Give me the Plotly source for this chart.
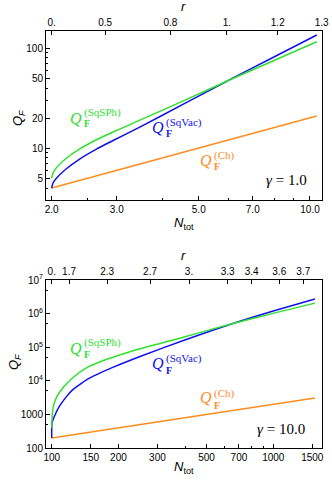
import plotly.graph_objects as go

# ---------------- data: top panel (gamma = 1.0) ----------------
top_N_ch = [2.0, 10.43]
top_Q_ch = [4.0, 21.0]

top_N_vac = [2.0, 2.015, 2.054, 2.187, 2.375, 2.636, 2.924, 3.452, 4.542, 5.972, 7.796, 10.43]
top_Q_vac = [4.0, 4.47, 4.96, 6.21, 7.77, 9.77, 11.9, 16.2, 27.6, 47.1, 78.2, 135.8]

top_N_sph = [2.0, 2.015, 2.054, 2.187, 2.375, 2.636, 3.0, 3.452, 4.542, 5.972, 7.796, 10.43]
top_Q_sph = [5.0, 5.6, 6.3, 7.9, 9.8, 12.1, 15.1, 19.0, 29.8, 47.1, 72.6, 116.4]

top_N_ticks = [2, 3, 5, 7, 10]
top_N_ticktext = ["2.0", "3.0", "5.0", "7.0", "10.0"]
top_Q_ticks = [5, 10, 20, 50, 100]
top_Q_ticktext = ["5", "10", "20", "50", "100"]
top_r_pos = [2.0, 2.79, 4.19, 5.96, 8.18, 10.75]
top_r_text = ["0.", "0.5", "0.8", "1.", "1.2", "1.3"]

# ---------------- data: bottom panel (gamma = 10.0) ----------------
bot_N_ch = [100, 1542]
bot_Q_ch = [200, 3100]

bot_N_vac = [100, 100.3, 102.7, 108.2, 116, 124.1, 133.2, 145.1, 158.5, 188.5, 250.3, 392.6, 657.6, 1018, 1542]
bot_Q_vac = [200, 553, 868, 1722, 3273, 5360, 7600, 11150, 15070, 25100, 53000, 1.585e5, 5.1e5, 1.24e6, 2.73e6]

bot_N_sph = [100, 101.0, 104.6, 112.1, 124.4, 142.8, 175.8, 225.6, 392.6, 657.6, 1018, 1542]
bot_Q_sph = [400, 1374, 3055, 6070, 12300, 23800, 42900, 73600, 1.99e5, 5.1e5, 1.05e6, 2.05e6]

bot_N_ticks = [100, 150, 200, 300, 500, 700, 1000, 1500]
bot_N_ticktext = ["100", "150", "200", "300", "500", "700", "1000", "1500"]
bot_Q_ticks = [100, 1000, 1e4, 1e5, 1e6, 1e7]
bot_Q_ticktext = ["100", "1000", "10<sup>4</sup>", "10<sup>5</sup>", "10<sup>6</sup>", "10<sup>7</sup>"]
bot_r_pos = [100, 119.7, 178, 277.8, 416.5, 622.6, 799, 1064, 1366]
bot_r_text = ["0.", "1.7", "2.3", "2.7", "3.", "3.3", "3.4", "3.6", "3.7"]

GREEN = "#2fe02f"
BLUE = "#1010f0"
ORANGE = "#ff8c1f"
LW = 1.5

fig = go.Figure()

def add_curves(xa, ya, nch, qch, nvac, qvac, nsph, qsph):
    fig.add_trace(go.Scatter(x=nch, y=qch, mode="lines", line=dict(color=ORANGE, width=LW),
                             xaxis=xa, yaxis=ya, showlegend=False, name="Ch"))
    fig.add_trace(go.Scatter(x=nvac, y=qvac, mode="lines", line=dict(color=BLUE, width=LW, shape="spline", smoothing=0.7),
                             xaxis=xa, yaxis=ya, showlegend=False, name="SqVac"))
    fig.add_trace(go.Scatter(x=nsph, y=qsph, mode="lines", line=dict(color=GREEN, width=LW, shape="spline", smoothing=0.7),
                             xaxis=xa, yaxis=ya, showlegend=False, name="SqSPh"))

add_curves("x", "y", top_N_ch, top_Q_ch, top_N_vac, top_Q_vac, top_N_sph, top_Q_sph)
add_curves("x2", "y2", bot_N_ch, bot_Q_ch, bot_N_vac, bot_Q_vac, bot_N_sph, bot_Q_sph)

TICKFONT = dict(family="Liberation Sans, Arial, sans-serif", size=10, color="black")
common = dict(type="log", showgrid=False, zeroline=False, showline=True, linecolor="black",
              linewidth=1, ticks="inside", ticklen=4, tickcolor="black", tickfont=TICKFONT,
              tickmode="array", automargin=False)

def minor(vals):
    return dict(tickmode="array", tickvals=vals, ticks="inside", ticklen=2, tickcolor="black", showgrid=False)

# geometry (pixel -> paper helpers)
L, R, T, B = 46, 322, 31, 448
W, H = R - L, B - T
def px(x):
    return (x - L) / W
def py(y):
    return (B - y) / H

top_dom = [py(199.5), 1.0]
bot_dom = [0.0, py(280)]

top_xr = [0.2856, 1.0325]
bot_xr = [1.974, 3.22]

fig.update_layout(
    width=332, height=483,
    margin=dict(l=L, r=332 - R, t=T, b=483 - B),
    paper_bgcolor="white", plot_bgcolor="white",
    template="none",
    xaxis=dict(common, domain=[0, 1], anchor="y", range=top_xr,
               tickvals=top_N_ticks, ticktext=top_N_ticktext,
               minor=minor([2.5, 4, 6, 8, 9])),
    xaxis3=dict(common, overlaying="x", side="top", anchor="y", range=top_xr,
                tickvals=top_r_pos, ticktext=top_r_text),
    yaxis=dict(common, domain=top_dom, anchor="x", range=[0.488, 2.173], mirror=True,
               tickvals=top_Q_ticks, ticktext=top_Q_ticktext,
               minor=minor([4, 6, 7, 8, 9, 30, 40, 60, 70, 80, 90])),
    xaxis2=dict(common, domain=[0, 1], anchor="y2", range=bot_xr,
                tickvals=bot_N_ticks, ticktext=bot_N_ticktext,
                minor=minor([400, 600, 800, 900])),
    xaxis4=dict(common, overlaying="x2", side="top", anchor="y2", range=bot_xr,
                tickvals=bot_r_pos, ticktext=bot_r_text),
    yaxis2=dict(common, domain=bot_dom, anchor="x2", range=[2, 7], mirror=True,
                tickvals=bot_Q_ticks, ticktext=bot_Q_ticktext,
                minor=minor([500, 5000, 5e4, 5e5, 5e6])),
)

# invisible traces so the top r-axes are drawn
fig.add_trace(go.Scatter(x=top_r_pos, y=[None] * len(top_r_pos), xaxis="x3", yaxis="y",
                         mode="lines", showlegend=False, hoverinfo="skip"))
fig.add_trace(go.Scatter(x=bot_r_pos, y=[None] * len(bot_r_pos), xaxis="x4", yaxis="y2",
                         mode="lines", showlegend=False, hoverinfo="skip"))

ann = []
SANS = "Liberation Sans, Arial, sans-serif"
SERIF = "Liberation Serif, Times New Roman, serif"

def text(x, y, s, size, family, color="black", xanchor="center", yanchor="middle", angle=0):
    ann.append(dict(x=px(x), y=py(y), xref="paper", yref="paper", text=s, showarrow=False,
                    font=dict(family=family, size=size, color=color), xanchor=xanchor,
                    yanchor=yanchor, textangle=angle, borderpad=0))

# axis titles
for (ry, ny, qx, qy) in [(7, 223, 18, 118), (255, 468, 14, 362)]:
    text(183, ry, "<i>r</i>", 13, SANS)
    text(184, ny, "<i>N</i><sub>tot</sub>", 13, SANS)
    text(qx, qy, "<i>Q</i><sub><i>F</i></sub>", 13, SANS, angle=-90)

# curve labels: Q with superscript above and bold F subscript below
def qlabel(xr, yq, ysup, ysub, sup, color):
    text(xr, yq, "<i>Q</i>", 16, SERIF, color=color, xanchor="right")
    text(xr, ysup, "(" + sup + ")", 11, SERIF, color=color, xanchor="left")
    text(xr, ysub, "<b>F</b>", 10, SERIF, color=color, xanchor="left")

qlabel(83, 118.5, 112, 123.5, "SqSPh", GREEN)
qlabel(165, 127.5, 122.5, 133, "SqVac", BLUE)
qlabel(213, 161, 155.5, 166.5, "Ch", ORANGE)
text(286, 179.5, "<i>γ</i> = 1.0", 15, SERIF)

qlabel(83, 348.5, 342, 354, "SqSPh", GREEN)
qlabel(165, 363.5, 358, 370, "SqVac", BLUE)
qlabel(213, 397.5, 393, 405, "Ch", ORANGE)
text(281, 428.5, "<i>γ</i> = 10.0", 15, SERIF)

fig.update_layout(annotations=ann)

fig.write_html("out.html", config={"displayModeBar": False},
               post_script="document.body.style.margin='0';")
